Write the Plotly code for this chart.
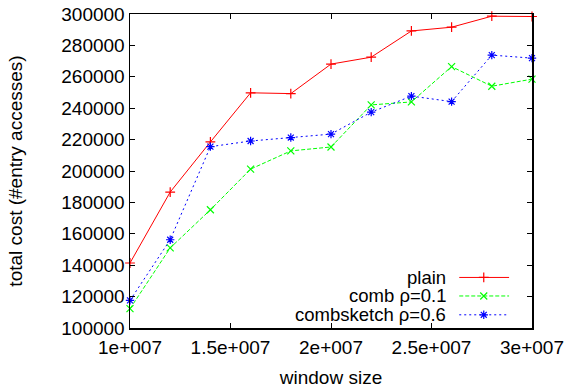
import plotly.graph_objects as go

window_size = [1.0e7, 1.2e7, 1.4e7, 1.6e7, 1.8e7, 2.0e7, 2.2e7, 2.4e7, 2.6e7, 2.8e7, 3.0e7]
plain = [141400, 186600, 218500, 249800, 249300, 268100, 272500, 289200, 291600, 298600, 298400]
comb = [112300, 151000, 175300, 201200, 212800, 215300, 242100, 244000, 266500, 254000, 258500]
combsketch = [117600, 156200, 215500, 219100, 221300, 223500, 237500, 247700, 244200, 273800, 271900]

x_tickvals = [1.0e7, 1.5e7, 2.0e7, 2.5e7, 3.0e7]
x_ticktext = ["1e+007", "1.5e+007", "2e+007", "2.5e+007", "3e+007"]
y_tickvals = [100000, 120000, 140000, 160000, 180000, 200000, 220000, 240000, 260000, 280000, 300000]
y_ticktext = [str(v) for v in y_tickvals]

series_names = ["plain", "comb ρ=0.1", "combsketch ρ=0.6"]
series_data = [plain, comb, combsketch]
colors = ["#ff0000", "#00ff00", "#0000ff"]
dashes = ["solid", "4px,2px", "2px,3px"]
symbols = ["cross-thin", "x-thin", "asterisk"]

FONT = "Liberation Sans, Arial, Helvetica, sans-serif"
FS = 19

fig = go.Figure()
for name, data, c, d, s in zip(series_names, series_data, colors, dashes, symbols):
    fig.add_trace(go.Scatter(
        x=window_size, y=data, mode="lines+markers", name=name,
        line=dict(color=c, width=1, dash=d),
        marker=dict(symbol=s, size=7, color=c, line=dict(color=c, width=1.2)),
        showlegend=False, cliponaxis=False,
    ))

# manual gnuplot-style legend (text right-aligned, sample to the right)
row_y = [0.161, 0.102, 0.042]
for name, c, d, s, ry in zip(series_names, colors, dashes, symbols, row_y):
    fig.add_trace(go.Scatter(
        x=[0.819, 0.943], y=[ry, ry], mode="lines", xaxis="x2", yaxis="y2",
        line=dict(color=c, width=1, dash=d), showlegend=False, hoverinfo="skip",
    ))
    fig.add_trace(go.Scatter(
        x=[0.880], y=[ry], mode="markers", xaxis="x2", yaxis="y2",
        marker=dict(symbol=s, size=7, color=c, line=dict(color=c, width=1.2)),
        showlegend=False, hoverinfo="skip",
    ))
    fig.add_annotation(
        x=0.790, y=ry, xref="x domain", yref="y domain", text=name,
        showarrow=False, xanchor="right", yanchor="middle",
        font=dict(family=FONT, size=18.5, color="black"),
    )

axis_common = dict(
    showline=True, linecolor="black", linewidth=1.5, mirror="ticks",
    ticks="inside", ticklen=5, tickwidth=1, tickcolor="black",
    showgrid=False, zeroline=False, automargin=False,
    ticklabeloverflow="allow",
    tickfont=dict(family=FONT, size=FS, color="black"),
)

fig.update_layout(
    width=568, height=390,
    margin=dict(l=130, r=36, t=14, b=62),
    paper_bgcolor="white", plot_bgcolor="white",
    font=dict(family=FONT, size=FS, color="black"),
    showlegend=False,
    xaxis=dict(range=[1.0e7, 3.0e7], tickvals=x_tickvals, ticktext=x_ticktext,
               title=dict(text="window size", font=dict(family=FONT, size=FS), standoff=13),
               ticklabelstandoff=2, **axis_common),
    yaxis=dict(range=[100000, 300000], tickvals=y_tickvals, ticktext=y_ticktext,
               title=dict(text="total cost (#entry accesses)", font=dict(family=FONT, size=FS), standoff=33),
               ticklabelstandoff=0, **axis_common),
    xaxis2=dict(range=[0, 1], overlaying="x", visible=False),
    yaxis2=dict(range=[0, 1], overlaying="y", visible=False),
)

fig.write_html(
    "out.html",
    config={"displayModeBar": False, "staticPlot": True},
    post_script="document.body.style.margin='0';document.body.style.overflow='hidden';",
)
